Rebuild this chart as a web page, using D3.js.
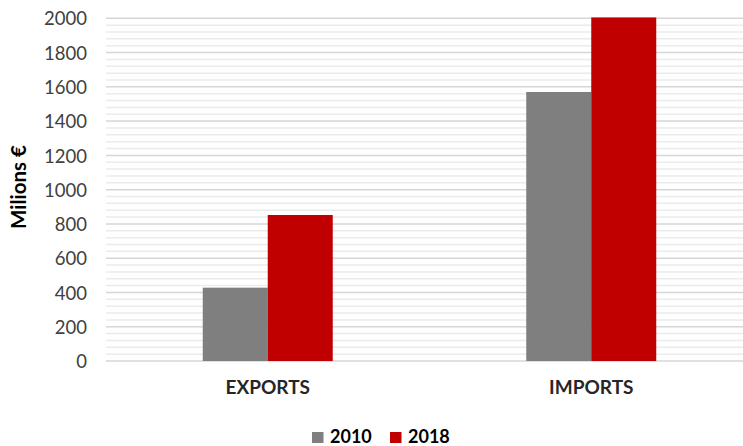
<!DOCTYPE html>
<html><head><meta charset="utf-8">
<script src="https://cdn.jsdelivr.net/npm/d3@7"></script>
<style>html,body{margin:0;padding:0;background:#fff;overflow:hidden}</style>
</head><body>
<svg id="c" width="743" height="446"></svg>
<script>
const categories = ["EXPORTS", "IMPORTS"];
const seriesNames = ["2010", "2018"];
const values2010 = [428, 1570];
const values2018 = [852, 2005];
const yTicks = [0, 200, 400, 600, 800, 1000, 1200, 1400, 1600, 1800, 2000];
const colors = ["#7f7f7f", "#c00000"];
const yTitle = "Milions €";

(function () {
const svg = d3.select("#c");
const pLeft = 106, pRight = 753, pTop = 18.3, pBottom = 361;
const font = "Lato, 'Open Sans', sans-serif";

const x = d3.scaleBand().domain(categories).range([pLeft, pRight]).padding(0);
const xs = d3.scaleBand().domain(seriesNames).range([0, 130]);
const y = d3.scaleLinear().domain([0, 2000]).range([pBottom, pTop]);

// minor gridlines
const minor = d3.range(0, 2001, 40).filter(v => v % 200 !== 0);
svg.append("g").selectAll("line").data(minor).join("line")
  .attr("x1", pLeft).attr("x2", pRight)
  .attr("y1", d => y(d)).attr("y2", d => y(d))
  .attr("stroke", "#ebebeb").attr("stroke-width", 1.5);
// major gridlines
svg.append("g").selectAll("line").data(yTicks).join("line")
  .attr("x1", pLeft).attr("x2", pRight)
  .attr("y1", d => y(d)).attr("y2", d => y(d))
  .attr("stroke", "#d6d6d6").attr("stroke-width", 1.5);

// bars
const data = categories.map((c, i) => ({c, vals: [values2010[i], values2018[i]]}));
const g = svg.append("g");
data.forEach(d => {
  d.vals.forEach((v, j) => {
    g.append("rect")
      .attr("x", x(d.c) + x.bandwidth() / 2 - 65 + xs(seriesNames[j]))
      .attr("width", xs.bandwidth())
      .attr("y", y(v))
      .attr("height", y(0) - y(v))
      .attr("fill", colors[j]);
  });
});

// y axis labels
const yAxis = d3.axisLeft(y).tickValues(yTicks).tickFormat(d3.format("d")).tickSize(0).tickPadding(0);
const ya = svg.append("g").attr("transform", "translate(87,0)").call(yAxis);
ya.select(".domain").remove();
ya.selectAll("text").attr("font-family", font).attr("font-size", 18.5)
  .attr("fill", "#404040").attr("dy", "0.36em");

// x axis labels
const xAxis = d3.axisBottom(x).tickSize(0).tickPadding(0);
const xa = svg.append("g").attr("transform", "translate(0,379)").call(xAxis);
xa.select(".domain").remove();
xa.selectAll("text").attr("font-family", font).attr("font-size", 19)
  .attr("font-weight", "bold").attr("fill", "#262626").attr("dy", "0.8em");

// y title
svg.append("text")
  .attr("transform", "translate(26,187) rotate(-90)")
  .attr("text-anchor", "middle")
  .attr("font-family", font).attr("font-size", 20.5).attr("font-weight", "bold")
  .attr("fill", "#000").text(yTitle);

// legend
const legX = [312, 390];
const leg = svg.append("g");
seriesNames.forEach((s, i) => {
  leg.append("rect").attr("x", legX[i]).attr("y", 432).attr("width", 11.5).attr("height", 11).attr("fill", colors[i]);
  leg.append("text").attr("x", legX[i] + 18).attr("y", 443)
    .attr("font-family", font).attr("font-size", 18).attr("font-weight", "bold")
    .attr("fill", "#000").text(s);
});
})();
</script>
</body></html>
